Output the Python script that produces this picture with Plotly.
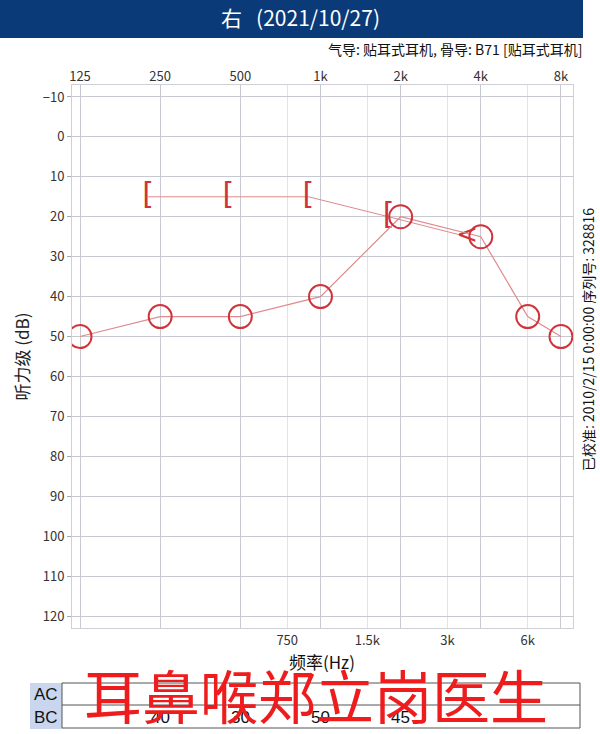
import math
import plotly.graph_objects as go

FONT = "Noto Sans CJK SC"
RED = "#d0343a"
LINE_RED = "#e08a8c"

freqs_ac = [125, 250, 500, 1000, 2000, 4000, 6000, 8000]
ac_db = [50, 45, 45, 40, 20, 25, 45, 50]
freqs_bc = [250, 500, 1000, 2000]
bc_db = [15, 15, 15, 20]
bc_unmasked_freq = [4000]
bc_unmasked_db = [25]
top_ticks = [125, 250, 500, 1000, 2000, 4000, 8000]
top_labels = ["125", "250", "500", "1k", "2k", "4k", "8k"]
mid_ticks = [750, 1500, 3000, 6000]
mid_labels = ["750", "1.5k", "3k", "6k"]
y_ticks = list(range(-10, 121, 10))
table_bc = ["40", "30", "50", "45"]

shift = 2 ** -0.15  # bracket symbols sit just left of their frequency
ushift = 2 ** -0.17
fig = go.Figure()

# BC line (masked + unmasked)
fig.add_trace(go.Scatter(x=[f * shift for f in freqs_bc] + [f * ushift for f in bc_unmasked_freq],
                         y=bc_db + bc_unmasked_db, mode="lines",
                         line=dict(color=LINE_RED, width=1), hoverinfo="skip"))
fig.add_trace(go.Scatter(x=[f * shift for f in freqs_bc], y=bc_db, mode="text", text=["["] * len(bc_db),
                         textfont=dict(family="DejaVu Sans", size=30, color=RED), hoverinfo="skip"))
fig.add_trace(go.Scatter(x=[f * ushift for f in bc_unmasked_freq], y=bc_unmasked_db, mode="text",
                         text=["<"], textfont=dict(family="DejaVu Sans", size=26, color=RED), hoverinfo="skip"))
# AC line
fig.add_trace(go.Scatter(x=freqs_ac, y=ac_db, mode="lines+markers",
                         line=dict(color=LINE_RED, width=1.2),
                         marker=dict(symbol="circle-open", size=23, color=RED, line=dict(width=2)),
                         hoverinfo="skip"))
fig.add_trace(go.Scatter(x=[1000], y=[0], xaxis="x2", mode="markers", marker=dict(opacity=0), hoverinfo="skip"))

xr = [math.log10(125 * 2 ** -0.1), math.log10(8000 * 2 ** 0.15)]
fig.update_layout(
    width=600, height=734, showlegend=False, plot_bgcolor="white", paper_bgcolor="white",
    margin=dict(l=72, r=27, t=85, b=106),
    font=dict(family=FONT, color="#222"),
    xaxis=dict(type="log", range=xr, tickvals=mid_ticks, ticktext=mid_labels, showgrid=True,
               gridcolor="#e2e2e8", tickfont=dict(size=13, color="#333"), ticks="", showline=True,
               linecolor="#cfcfd6", mirror=True, zeroline=False),
    xaxis2=dict(type="log", range=xr, overlaying="x", side="top", tickvals=top_ticks, ticktext=top_labels,
                showgrid=True, gridcolor="#c8c8d0", tickfont=dict(size=13, color="#333"), ticks=""),
    yaxis=dict(range=[123, -13], tickvals=y_ticks, showgrid=True, gridcolor="#c8c8d0", zeroline=False,
               tickfont=dict(size=13, color="#333"), ticks="outside", ticklen=4, tickcolor="#aaa",
               showline=True, linecolor="#cfcfd6", mirror=True,
               title=dict(text="听力级 (dB)", font=dict(size=17), standoff=8)),
)


def px(x):
    return (x - 72) / 501


def py(y):
    return (628 - y) / 543


shapes = [dict(type="rect", xref="paper", yref="paper", x0=px(0), x1=px(583), y0=py(38), y1=py(0),
               fillcolor="#0b3a78", line=dict(width=0), layer="below")]
# table
shapes.append(dict(type="rect", xref="paper", yref="paper", x0=px(30), x1=px(62), y0=py(729), y1=py(683),
                   fillcolor="#c9d6ee", line=dict(width=0)))
shapes.append(dict(type="rect", xref="paper", yref="paper", x0=px(62), x1=px(580), y0=py(728), y1=py(683),
                   line=dict(color="#555", width=1)))
shapes.append(dict(type="line", xref="paper", yref="paper", x0=px(62), x1=px(580), y0=py(705), y1=py(705),
                   line=dict(color="#555", width=1)))
fig.update_layout(shapes=shapes)

ann = [
    dict(text="右   (2021/10/27)", x=px(300), y=py(17), font=dict(size=21, color="white", family=FONT)),
    dict(text="气导: 贴耳式耳机, 骨导: B71 [贴耳式耳机]", x=px(584), y=py(49), xanchor="right",
         font=dict(size=14, color="#111")),
    dict(text="已校准: 2010/2/15 0:00:00 序列号: 328816", x=px(588), y=py(340), textangle=-90,
         font=dict(size=14, color="#111")),
    dict(text="频率(Hz)", x=px(322), y=py(661), font=dict(size=17, color="#111")),
    dict(text="AC", x=px(46), y=py(694), font=dict(size=17, color="#111", family="Liberation Sans")),
    dict(text="BC", x=px(46), y=py(717), font=dict(size=17, color="#111", family="Liberation Sans")),
]
for xv, t in zip([160, 240, 320, 400], table_bc):
    ann.append(dict(text=t, x=px(xv), y=py(717), font=dict(size=17, color="#111", family="Liberation Sans")))
ann.append(dict(text="耳鼻喉郑立岗医生", x=px(316), y=py(694), font=dict(size=58, color="#ee1c1c", family=FONT)))
for a in ann:
    a.setdefault("xanchor", "center")
    a.update(xref="paper", yref="paper", showarrow=False, yanchor="middle")
fig.update_layout(annotations=ann)

fig.write_html("out.html", config={"displayModeBar": False},
               post_script="document.body.style.margin='0';")
